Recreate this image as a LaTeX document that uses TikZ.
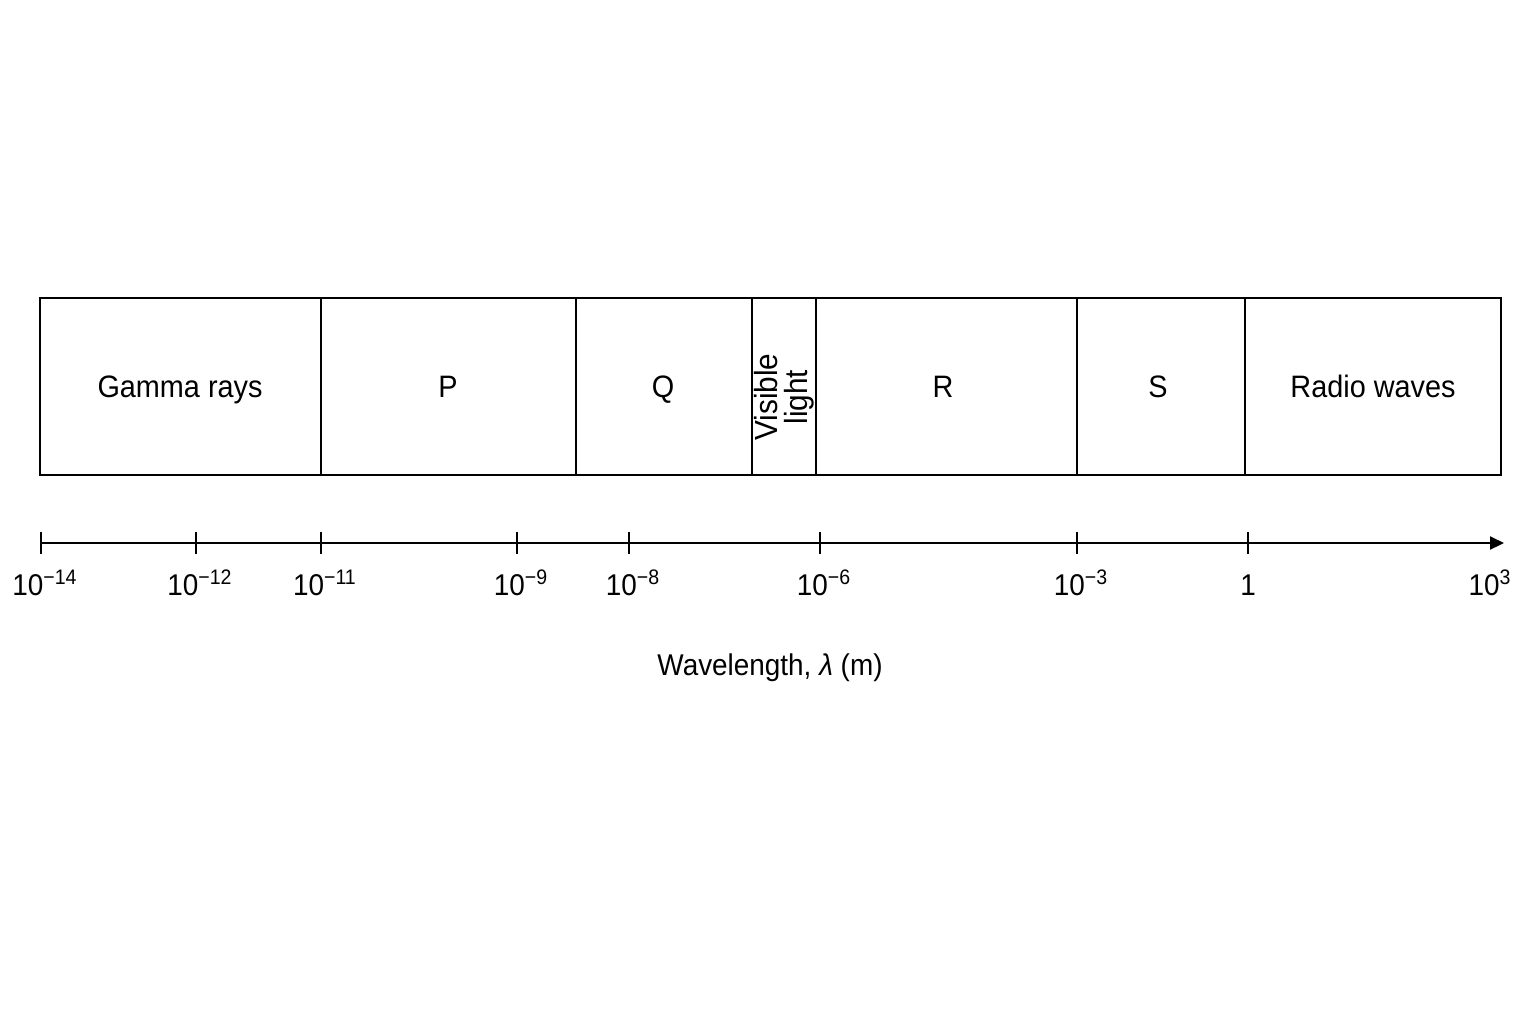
\documentclass[tikz,border=0pt]{standalone}
\usepackage{fontspec}
\setmainfont[FakeStretch=0.93]{Liberation Sans}
\usetikzlibrary{arrows.meta}

\begin{document}
\begin{tikzpicture}[x=0.5pt,y=-0.5pt,
    every node/.style={font=\fontsize{15}{15}\selectfont},
    tick/.style={line width=1pt}]
  \useasboundingbox (0,0) rectangle (1536,1024);

  % bands of the spectrum
  \begin{scope}[line width=1pt]
    \draw (40,298) rectangle (321,475);
    \draw (321,298) rectangle (576,475);
    \draw (576,298) rectangle (752,475);
    \draw (752,298) rectangle (816,475);
    \draw (816,298) rectangle (1077,475);
    \draw (1077,298) rectangle (1245,475);
    \draw (1245,298) rectangle (1501,475);
  \end{scope}

  \begin{scope}[every node/.style={font=\fontsize{15.5}{15}\selectfont,anchor=base}]
    \node (gamma) at (180,397) {Gamma rays};
    \node (P) at (448,397) {P};
    \node (Q) at (663,397) {Q};
    \node (R) at (943,397) {R};
    \node (S) at (1158,397) {S};
    \node (radio) at (1373,397) {Radio waves};
  \end{scope}
  \node[rotate=90,align=center,inner sep=0pt,font=\fontsize{16}{15}\selectfont] (vis) at (784,397) {Visible\\light};

  % wavelength axis
  \coordinate (ax0) at (41,543);
  \coordinate (ax1) at (1504,543);
  \draw[line width=1pt,-{Triangle[length=7pt,width=6.5pt]}] (ax0) -- (ax1);

  \foreach \x/\e [count=\i] in {41/−14,196/−12,321/−11,517/−9,629/−8,820/−6,1077/−3} {
    \draw[tick] (\x,532) -- (\x,554);
    \node[anchor=base] (t\i) at (\x+4,595) {10\textsuperscript{\e}};
  }
  \draw[tick] (1248,532) -- (1248,554);
  \node[anchor=base] (t8) at (1248,595) {1};
  \node[anchor=base] (t9) at (1490,595) {10\textsuperscript{3}};

  \node[anchor=base] (title) at (770,675) {Wavelength, \textit{λ} (m)};
\end{tikzpicture}
\end{document}
